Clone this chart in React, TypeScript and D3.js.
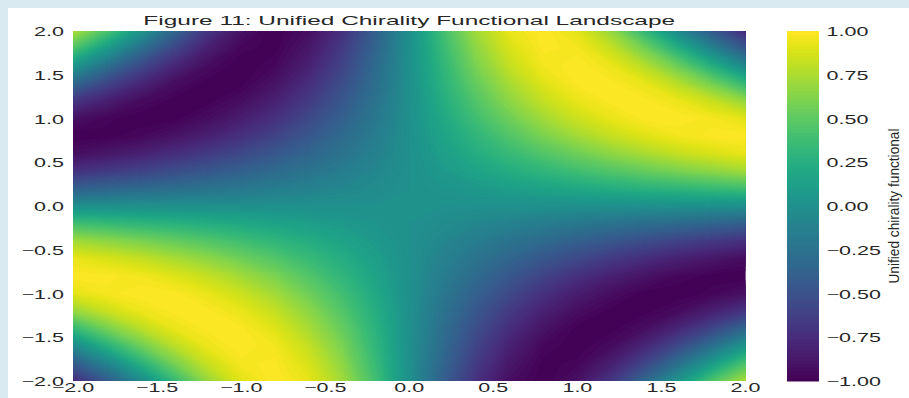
import * as d3 from "d3";
import React, { useEffect, useRef } from "react";

// grid of the landscape (rows from y = 2 down to y = -2)
const xValues = [-2.0, -1.8, -1.6, -1.4, -1.2, -1.0, -0.8, -0.6, -0.4, -0.2, 0, 0.2, 0.4, 0.6, 0.8, 1.0, 1.2, 1.4, 1.6, 1.8, 2.0];
const yValues = [2.0, 1.8, 1.6, 1.4, 1.2, 1.0, 0.8, 0.6, 0.4, 0.2, 0, -0.2, -0.4, -0.6, -0.8, -1.0, -1.2, -1.4, -1.6, -1.8, -2.0];
const zRows = [
  [0.76, 0.44, 0.06, -0.33, -0.68, -0.91, -1.0, -0.93, -0.72, -0.39, 0, 0.39, 0.72, 0.93, 1.0, 0.91, 0.68, 0.33, -0.06, -0.44, -0.76],
  [0.44, 0.1, -0.26, -0.58, -0.83, -0.97, -0.99, -0.88, -0.66, -0.35, 0, 0.35, 0.66, 0.88, 0.99, 0.97, 0.83, 0.58, 0.26, -0.1, -0.44],
  [0.06, -0.26, -0.55, -0.78, -0.94, -1.0, -0.96, -0.82, -0.6, -0.31, 0, 0.31, 0.6, 0.82, 0.96, 1.0, 0.94, 0.78, 0.55, 0.26, -0.06],
  [-0.33, -0.58, -0.78, -0.93, -0.99, -0.99, -0.9, -0.74, -0.53, -0.28, 0, 0.28, 0.53, 0.74, 0.9, 0.99, 0.99, 0.93, 0.78, 0.58, 0.33],
  [-0.68, -0.83, -0.94, -0.99, -0.99, -0.93, -0.82, -0.66, -0.46, -0.24, 0, 0.24, 0.46, 0.66, 0.82, 0.93, 0.99, 0.99, 0.94, 0.83, 0.68],
  [-0.91, -0.97, -1.0, -0.99, -0.93, -0.84, -0.72, -0.56, -0.39, -0.2, 0, 0.2, 0.39, 0.56, 0.72, 0.84, 0.93, 0.99, 1.0, 0.97, 0.91],
  [-1.0, -0.99, -0.96, -0.9, -0.82, -0.72, -0.6, -0.46, -0.31, -0.16, 0, 0.16, 0.31, 0.46, 0.6, 0.72, 0.82, 0.9, 0.96, 0.99, 1.0],
  [-0.93, -0.88, -0.82, -0.74, -0.66, -0.56, -0.46, -0.35, -0.24, -0.12, 0, 0.12, 0.24, 0.35, 0.46, 0.56, 0.66, 0.74, 0.82, 0.88, 0.93],
  [-0.72, -0.66, -0.6, -0.53, -0.46, -0.39, -0.31, -0.24, -0.16, -0.08, 0, 0.08, 0.16, 0.24, 0.31, 0.39, 0.46, 0.53, 0.6, 0.66, 0.72],
  [-0.39, -0.35, -0.31, -0.28, -0.24, -0.2, -0.16, -0.12, -0.08, -0.04, 0, 0.04, 0.08, 0.12, 0.16, 0.2, 0.24, 0.28, 0.31, 0.35, 0.39],
  [0, 0, 0, 0, 0, 0, 0, 0, 0, 0, 0, 0, 0, 0, 0, 0, 0, 0, 0, 0, 0],
  [0.39, 0.35, 0.31, 0.28, 0.24, 0.2, 0.16, 0.12, 0.08, 0.04, 0, -0.04, -0.08, -0.12, -0.16, -0.2, -0.24, -0.28, -0.31, -0.35, -0.39],
  [0.72, 0.66, 0.6, 0.53, 0.46, 0.39, 0.31, 0.24, 0.16, 0.08, 0, -0.08, -0.16, -0.24, -0.31, -0.39, -0.46, -0.53, -0.6, -0.66, -0.72],
  [0.93, 0.88, 0.82, 0.74, 0.66, 0.56, 0.46, 0.35, 0.24, 0.12, 0, -0.12, -0.24, -0.35, -0.46, -0.56, -0.66, -0.74, -0.82, -0.88, -0.93],
  [1.0, 0.99, 0.96, 0.9, 0.82, 0.72, 0.6, 0.46, 0.31, 0.16, 0, -0.16, -0.31, -0.46, -0.6, -0.72, -0.82, -0.9, -0.96, -0.99, -1.0],
  [0.91, 0.97, 1.0, 0.99, 0.93, 0.84, 0.72, 0.56, 0.39, 0.2, 0, -0.2, -0.39, -0.56, -0.72, -0.84, -0.93, -0.99, -1.0, -0.97, -0.91],
  [0.68, 0.83, 0.94, 0.99, 0.99, 0.93, 0.82, 0.66, 0.46, 0.24, 0, -0.24, -0.46, -0.66, -0.82, -0.93, -0.99, -0.99, -0.94, -0.83, -0.68],
  [0.33, 0.58, 0.78, 0.93, 0.99, 0.99, 0.9, 0.74, 0.53, 0.28, 0, -0.28, -0.53, -0.74, -0.9, -0.99, -0.99, -0.93, -0.78, -0.58, -0.33],
  [-0.06, 0.26, 0.55, 0.78, 0.94, 1.0, 0.96, 0.82, 0.6, 0.31, 0, -0.31, -0.6, -0.82, -0.96, -1.0, -0.94, -0.78, -0.55, -0.26, 0.06],
  [-0.44, -0.1, 0.26, 0.58, 0.83, 0.97, 0.99, 0.88, 0.66, 0.35, 0, -0.35, -0.66, -0.88, -0.99, -0.97, -0.83, -0.58, -0.26, 0.1, 0.44],
  [-0.76, -0.44, -0.06, 0.33, 0.68, 0.91, 1.0, 0.93, 0.72, 0.39, 0, -0.39, -0.72, -0.93, -1.0, -0.91, -0.68, -0.33, 0.06, 0.44, 0.76],
];

const xTicks = [-2, -1.5, -1, -0.5, 0, 0.5, 1, 1.5, 2];
const yTicks = [-2, -1.5, -1, -0.5, 0, 0.5, 1, 1.5, 2];
const colorbarTicks = [-1, -0.75, -0.5, -0.25, 0, 0.25, 0.5, 0.75, 1];
const levelCount = 100;
const title = "Figure 11: Unified Chirality Functional Landscape";
const colorbarLabel = "Unified chirality functional";

const W = 909;
const H = 398;
const FONT = "'Liberation Sans', Arial, sans-serif";
const INK = "#262626";

const App = () => {
  const svgRef = useRef(null);

  useEffect(() => {
    const svg = d3.select(svgRef.current);
    svg.selectAll("*").remove();

    const plot = { left: 73, right: 745.5, top: 31, bottom: 381 };
    const cb = { left: 787, right: 819 };

    // page frame: light blue page, white figure
    svg.append("rect").attr("width", W).attr("height", H).attr("fill", "#d9ebf1");
    svg.append("rect").attr("x", 8).attr("y", 8).attr("width", W).attr("height", H).attr("fill", "#ffffff");

    const x = d3.scaleLinear().domain([-2, 2]).range([plot.left, plot.right]);
    const y = d3.scaleLinear().domain([-2, 2]).range([plot.bottom, plot.top]);

    // grid index -> data coords (d3.contours puts sample i at i + 0.5)
    const nx = xValues.length;
    const ny = yValues.length;
    const gx = d3.scaleLinear().domain([0.5, nx - 0.5]).range([x(xValues[0]), x(xValues[nx - 1])]);
    const gy = d3.scaleLinear().domain([0.5, ny - 0.5]).range([y(yValues[0]), y(yValues[ny - 1])]);

    const levels = d3.range(levelCount + 1).map(i => Math.round((-1 + (i * 2) / levelCount) * 1000) / 1000);
    const bandColor = k => d3.interpolateViridis((k + 0.5) / levelCount);

    const contours = d3.contours()
      .size([nx, ny])
      .thresholds(levels.slice(0, levelCount))(zRows.flat());

    const proj = d3.geoTransform({
      point: function (px, py) {
        this.stream.point(gx(px), gy(py));
      },
    });
    const path = d3.geoPath(proj);

    svg.append("clipPath").attr("id", "plot-clip")
      .append("rect")
      .attr("x", plot.left).attr("y", plot.top)
      .attr("width", plot.right - plot.left).attr("height", plot.bottom - plot.top);

    const field = svg.append("g").attr("clip-path", "url(#plot-clip)");
    field.append("rect")
      .attr("x", plot.left).attr("y", plot.top)
      .attr("width", plot.right - plot.left).attr("height", plot.bottom - plot.top)
      .attr("fill", bandColor(0));

    field.selectAll("path")
      .data(contours)
      .enter()
      .append("path")
      .attr("d", d => path(d))
      .attr("fill", (d, k) => bandColor(k))
      .attr("stroke", (d, k) => bandColor(k))
      .attr("stroke-width", 0.4);

    // stretched text helper
    const label = (parent, tx, ty, txt, opts) => {
      const g = parent.append("g")
        .attr("transform", `translate(${tx},${ty}) scale(${opts.sx},1)${opts.rotate ? ` rotate(${opts.rotate})` : ""}`);
      const t = g.append("text")
        .attr("font-family", FONT)
        .attr("font-size", opts.size)
        .attr("fill", INK)
        .attr("text-anchor", opts.anchor)
        .text(txt);
      if (opts.length) t.attr("textLength", opts.length).attr("lengthAdjust", "spacingAndGlyphs");
      return t;
    };

    const f1 = d3.format(".1f");
    const f2 = d3.format(".2f");

    yTicks.forEach(v => label(svg, 64, y(v) + 5, f1(v), { sx: 1.72, size: 12.5, anchor: "end" }));
    xTicks.forEach(v => label(svg, x(v), 392, f1(v), { sx: 1.72, size: 12.5, anchor: "middle" }));

    // colorbar
    const cbY = d3.scaleLinear().domain([-1, 1]).range([plot.bottom, plot.top]);
    svg.append("g")
      .selectAll("rect")
      .data(d3.range(levelCount))
      .enter()
      .append("rect")
      .attr("x", cb.left)
      .attr("width", cb.right - cb.left)
      .attr("y", k => cbY(levels[k + 1]))
      .attr("height", k => cbY(levels[k]) - cbY(levels[k + 1]) + 0.5)
      .attr("fill", k => bandColor(k));

    colorbarTicks.forEach(v => label(svg, 826.5, cbY(v) + 5, f2(v), { sx: 1.72, size: 12.5, anchor: "start" }));

    label(svg, 898.5, (plot.top + plot.bottom) / 2, colorbarLabel, {
      sx: 1, size: 14.5, anchor: "middle", rotate: -90, length: 155,
    });

    label(svg, (plot.left + plot.right) / 2, 24.5, title, { sx: 1.88, size: 13, anchor: "middle" });
  }, []);

  return (
    <svg
      ref={svgRef}
      width={W}
      height={H}
      style={{ position: "absolute", left: 0, top: 0, display: "block" }}
    ></svg>
  );
};

export default App;
